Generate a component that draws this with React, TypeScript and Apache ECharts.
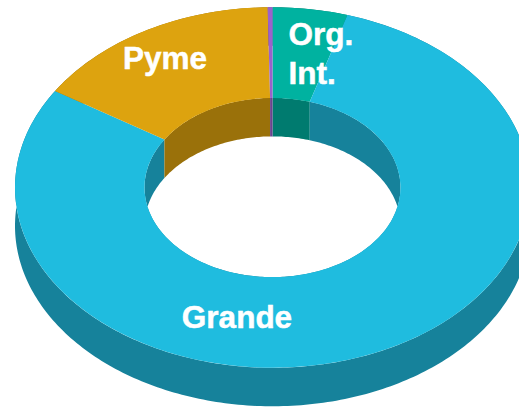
import React, { useEffect, useRef } from "react";
import * as echarts from "echarts";

const categories = ["Org. Int.", "Grande", "Pyme", "Otros"];
const sliceValues = [4.7, 79.3, 15.7, 0.3];
const capColors = ["#00B2A0", "#1FBCDF", "#DDA30F", "#9A62CC"];
const wallColors = ["#007B6F", "#16829B", "#9A710A", "#6B448E"];
const labelTexts = ["Org.\nInt.", "Grande", "Pyme", ""];

const WIDTH = 519;
const HEIGHT = 409;
const CX = 272.5;
const CY = 187.5;
const R_OUTER = 257.5;
const R_INNER = 128;
const SQUASH = 0.7;
const DEPTH = 38.5;

const total = sliceValues.reduce((a, b) => a + b, 0);
const startFractions = sliceValues.map((_, i) => sliceValues.slice(0, i).reduce((a, b) => a + b, 0) / total);
const toAngle = (fraction: number) => -Math.PI / 2 + fraction * Math.PI * 2;

const seriesData = sliceValues.map((v, i) => ({ name: categories[i], value: [v, i] }));

function sliceAngles(index: number) {
  const start = toAngle(startFractions[index]);
  const end = start + (sliceValues[index] / total) * Math.PI * 2;
  return { start, end };
}

function wallItem(radius: number) {
  return (_params: any, api: any) => {
    const index = api.value(1);
    const { start, end } = sliceAngles(index);
    const steps = Math.max(2, Math.ceil(((end - start) * 180) / Math.PI));
    const top: number[][] = [];
    const bottom: number[][] = [];
    for (let s = 0; s <= steps; s++) {
      const a = start + ((end - start) * s) / steps;
      const x = CX + radius * Math.cos(a);
      const y = CY + radius * SQUASH * Math.sin(a);
      top.push([x, y]);
      bottom.push([x, y + DEPTH]);
    }
    return {
      type: "polygon",
      shape: { points: top.concat(bottom.reverse()) },
      style: { fill: wallColors[index] },
    };
  };
}

function capItem(_params: any, api: any) {
  const index = api.value(1);
  const { start, end } = sliceAngles(index);
  return {
    type: "group",
    x: CX,
    y: CY,
    scaleY: SQUASH,
    children: [
      {
        type: "sector",
        shape: { cx: 0, cy: 0, r: R_OUTER, r0: R_INNER, startAngle: start, endAngle: end, clockwise: true },
        style: { fill: capColors[index] },
      },
    ],
  };
}

const labelAnchors = [
  { x: 288.5, y: 53, align: "left" },
  { x: 237, y: 317, align: "center" },
  { x: 165, y: 58, align: "center" },
  { x: 0, y: 0, align: "left" },
];

function labelItem(_params: any, api: any) {
  const index = api.value(1);
  const anchor = labelAnchors[index];
  return {
    type: "text",
    x: anchor.x,
    y: anchor.y,
    style: {
      text: labelTexts[index],
      fill: "#FFFFFF",
      stroke: "#FFFFFF",
      lineWidth: 0.5,
      font: 'bold 31.5px "Liberation Sans", Arial, sans-serif',
      lineHeight: 39,
      align: anchor.align,
      verticalAlign: "middle",
    },
  };
}

const customSeries = (renderItem: any, z: number) => ({
  type: "custom",
  coordinateSystem: "none",
  data: seriesData,
  renderItem,
  silent: true,
  clip: false,
  z,
  encode: { value: 0 },
});

export default function App() {
  const ref = useRef<HTMLDivElement>(null);
  useEffect(() => {
    document.body.style.margin = "0";
    const chart = echarts.init(ref.current!, null, { renderer: "svg" });
    chart.setOption({
      animation: false,
      backgroundColor: "#FFFFFF",
      series: [
        customSeries(wallItem(R_OUTER), 1),
        customSeries(wallItem(R_INNER), 2),
        customSeries(capItem, 3),
        customSeries(labelItem, 4),
      ],
    });
    return () => chart.dispose();
  }, []);
  return <div ref={ref} style={{ width: WIDTH, height: HEIGHT, overflow: "hidden" }} />;
}
